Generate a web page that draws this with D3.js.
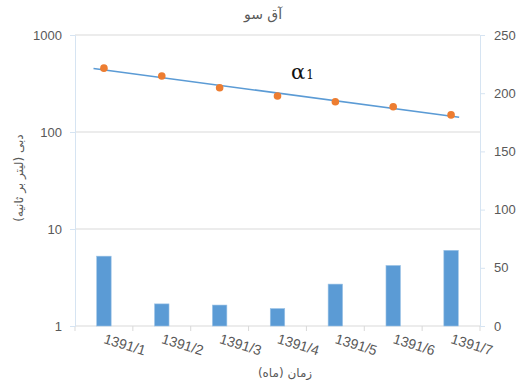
<!DOCTYPE html>
<html>
<head>
<meta charset="utf-8">
<script src="https://cdn.jsdelivr.net/npm/d3@7/dist/d3.min.js"></script>
<style>
  html, body { margin: 0; padding: 0; background: #fff; }
  svg { display: block; }
</style>
</head>
<body>
<svg id="chart" width="522" height="380"></svg>
<script>
// Monthly records for the Aq Su station
const months = ["1391/1", "1391/2", "1391/3", "1391/4", "1391/5", "1391/6", "1391/7"];
const rainfall = [60, 19, 18, 15, 36, 52, 65];          // right axis, bars
const discharge = [455, 378, 286, 235, 205, 182, 150];   // left axis (log), points
const leftTicks = [1, 10, 100, 1000];
const rightTicks = [0, 50, 100, 150, 200, 250];

const titleText = "آق سو";
const leftTitle = "دبی (لیتر بر ثانیه)";
const bottomTitle = "زمان (ماه)";

const svg = d3.select("#chart");
const m = { left: 75, right: 480, top: 35, bottom: 326 };
const textColor = "#595959";
const latin = "'Liberation Sans', Arial, sans-serif";
const persian = "'DejaVu Sans', sans-serif";

const x = d3.scaleBand().domain(months).range([m.left, m.right]);
const yLog = d3.scaleLog().domain([1, 1000]).range([m.bottom, m.top]);
const yRight = d3.scaleLinear().domain([0, 250]).range([m.bottom, m.top]);
const xc = i => x(months[0]) + x.bandwidth() * (i + 0.5);

// horizontal gridlines from the log axis
svg.append("g").selectAll("line").data(leftTicks.slice(1)).join("line")
  .attr("x1", m.left).attr("x2", m.right)
  .attr("y1", d => yLog(d)).attr("y2", d => yLog(d))
  .attr("stroke", "#d9d9d9").attr("stroke-width", 1);

// bottom category axis
const xAxis = svg.append("g").attr("transform", `translate(0,${m.bottom})`);
xAxis.append("line").attr("x1", m.left).attr("x2", m.right)
  .attr("stroke", "#d9d9d9");
xAxis.selectAll("line.tk").data(d3.range(months.length + 1)).join("line")
  .attr("class", "tk")
  .attr("x1", i => m.left + i * x.bandwidth()).attr("x2", i => m.left + i * x.bandwidth())
  .attr("y1", 0).attr("y2", 5).attr("stroke", "#d9d9d9");
xAxis.selectAll("text").data(months).join("text")
  .attr("transform", (d, i) => `translate(${xc(i) - 1},${17}) rotate(17)`)
  .attr("text-anchor", "start")
  .attr("font-family", latin).attr("font-size", 14)
  .attr("fill", textColor)
  .text(d => d);

// left log axis
const leftAxis = svg.append("g").attr("transform", `translate(${m.left},0)`)
  .call(d3.axisLeft(yLog).tickValues(leftTicks).tickFormat(d3.format("d")).tickSize(5).tickPadding(8));
leftAxis.select(".domain").attr("stroke", "#d6e4f2");
leftAxis.selectAll(".tick line").attr("stroke", "#d6e4f2");
leftAxis.selectAll("text").attr("font-family", latin).attr("font-size", 13).attr("fill", textColor);

// right linear axis
const rightAxis = svg.append("g").attr("transform", `translate(${m.right},0)`)
  .call(d3.axisRight(yRight).tickValues(rightTicks).tickSize(5).tickPadding(9));
rightAxis.select(".domain").attr("stroke", "#d6e4f2");
rightAxis.selectAll(".tick line").attr("stroke", "#d6e4f2");
rightAxis.selectAll("text").attr("font-family", latin).attr("font-size", 13).attr("fill", textColor);

// rainfall bars
const barW = x.bandwidth() * 0.25;
svg.append("g").selectAll("rect").data(rainfall).join("rect")
  .attr("x", (d, i) => xc(i) - barW / 2)
  .attr("width", barW)
  .attr("y", d => yRight(d))
  .attr("height", d => yRight(0) - yRight(d))
  .attr("fill", "#5b9bd5")
  .attr("stroke", "#9cc3e6").attr("stroke-width", 0.6);

// exponential trend of discharge (least squares on log10 values)
const idx = d3.range(discharge.length);
const lv = discharge.map(v => Math.log10(v));
const mx = d3.mean(idx), my = d3.mean(lv);
const slope = d3.sum(idx, i => (i - mx) * (lv[i] - my)) / d3.sum(idx, i => (i - mx) ** 2);
const icpt = my - slope * mx;
const trendSpan = [-0.18, discharge.length - 1 + 0.14];
svg.append("path")
  .datum(trendSpan)
  .attr("d", d3.line().x(t => xc(t)).y(t => yLog(10 ** (icpt + slope * t))))
  .attr("fill", "none").attr("stroke", "#5b9bd5").attr("stroke-width", 1.6);

// discharge points
svg.append("g").selectAll("circle").data(discharge).join("circle")
  .attr("cx", (d, i) => xc(i)).attr("cy", d => yLog(d))
  .attr("r", 3.8).attr("fill", "#ed7d31");

// trend label
const lbl = svg.append("text").attr("x", 291).attr("y", 79)
  .attr("font-family", "'DejaVu Serif', 'Liberation Serif', serif").attr("fill", "#111");
lbl.append("tspan").attr("font-size", 21).text("α");
lbl.append("tspan").attr("font-size", 12).attr("dx", 1).text("1");

// titles
svg.append("text").attr("x", 263).attr("y", 19).attr("text-anchor", "middle")
  .attr("font-family", persian).attr("font-size", 14).attr("fill", textColor)
  .text(titleText);
svg.append("text").attr("transform", "translate(23,178) rotate(-90)").attr("text-anchor", "middle")
  .attr("font-family", persian).attr("font-size", 12).attr("fill", textColor)
  .text(leftTitle);
svg.append("text").attr("x", 285).attr("y", 377).attr("text-anchor", "middle")
  .attr("font-family", persian).attr("font-size", 12).attr("fill", textColor)
  .text(bottomTitle);
</script>
</body>
</html>
